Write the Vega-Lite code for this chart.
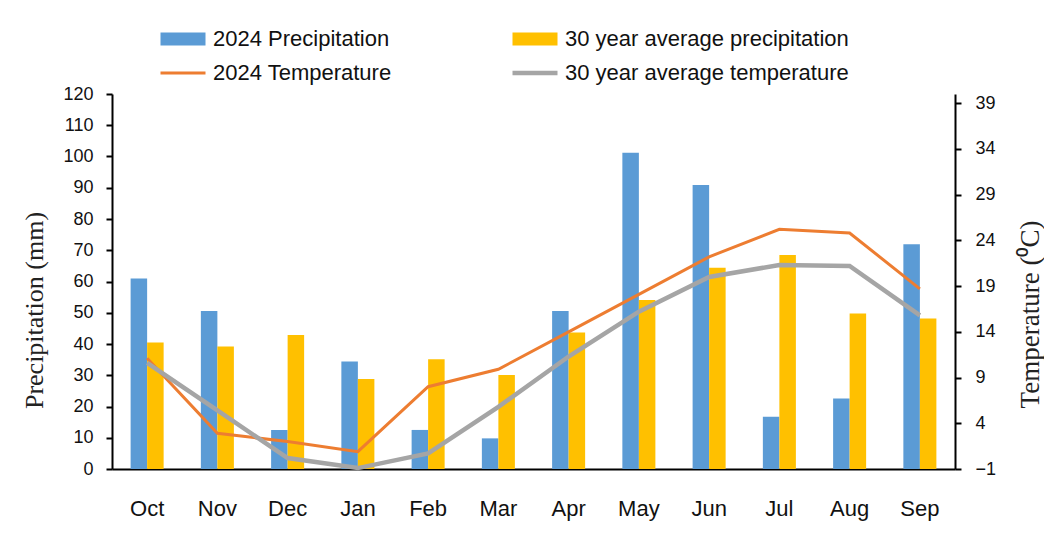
{
  "$schema": "https://vega.github.io/schema/vega-lite/v6.json",
  "autosize": {"type": "none"},
  "padding": {"left": 112, "top": 94, "right": 89, "bottom": 70},
  "width": 843,
  "height": 375,
  "background": "white",
  "config": {"view": {"stroke": null}},
  "datasets": {
    "precip": [
      {"month": "Oct", "series": "2024 Precipitation", "precip": 61.0},
      {"month": "Oct", "series": "30 year average precipitation", "precip": 40.5},
      {"month": "Nov", "series": "2024 Precipitation", "precip": 50.6},
      {"month": "Nov", "series": "30 year average precipitation", "precip": 39.2},
      {"month": "Dec", "series": "2024 Precipitation", "precip": 12.5},
      {"month": "Dec", "series": "30 year average precipitation", "precip": 42.9},
      {"month": "Jan", "series": "2024 Precipitation", "precip": 34.4},
      {"month": "Jan", "series": "30 year average precipitation", "precip": 28.8},
      {"month": "Feb", "series": "2024 Precipitation", "precip": 12.5},
      {"month": "Feb", "series": "30 year average precipitation", "precip": 35.1},
      {"month": "Mar", "series": "2024 Precipitation", "precip": 9.8},
      {"month": "Mar", "series": "30 year average precipitation", "precip": 30.1},
      {"month": "Apr", "series": "2024 Precipitation", "precip": 50.6},
      {"month": "Apr", "series": "30 year average precipitation", "precip": 43.7},
      {"month": "May", "series": "2024 Precipitation", "precip": 101.2},
      {"month": "May", "series": "30 year average precipitation", "precip": 54.1},
      {"month": "Jun", "series": "2024 Precipitation", "precip": 90.9},
      {"month": "Jun", "series": "30 year average precipitation", "precip": 64.4},
      {"month": "Jul", "series": "2024 Precipitation", "precip": 16.7},
      {"month": "Jul", "series": "30 year average precipitation", "precip": 68.5},
      {"month": "Aug", "series": "2024 Precipitation", "precip": 22.6},
      {"month": "Aug", "series": "30 year average precipitation", "precip": 49.8},
      {"month": "Sep", "series": "2024 Precipitation", "precip": 71.9},
      {"month": "Sep", "series": "30 year average precipitation", "precip": 48.2}
    ],
    "temp": [
      {"month": "Oct", "series": "2024 Temperature", "temp": 11.1},
      {"month": "Nov", "series": "2024 Temperature", "temp": 2.9},
      {"month": "Dec", "series": "2024 Temperature", "temp": 2.0},
      {"month": "Jan", "series": "2024 Temperature", "temp": 0.9},
      {"month": "Feb", "series": "2024 Temperature", "temp": 8.0},
      {"month": "Mar", "series": "2024 Temperature", "temp": 9.9},
      {"month": "Apr", "series": "2024 Temperature", "temp": 14.0},
      {"month": "May", "series": "2024 Temperature", "temp": 18.1},
      {"month": "Jun", "series": "2024 Temperature", "temp": 22.2},
      {"month": "Jul", "series": "2024 Temperature", "temp": 25.2},
      {"month": "Aug", "series": "2024 Temperature", "temp": 24.8},
      {"month": "Sep", "series": "2024 Temperature", "temp": 18.7},
      {"month": "Oct", "series": "30 year average temperature", "temp": 10.6},
      {"month": "Nov", "series": "30 year average temperature", "temp": 5.4},
      {"month": "Dec", "series": "30 year average temperature", "temp": 0.2},
      {"month": "Jan", "series": "30 year average temperature", "temp": -0.9},
      {"month": "Feb", "series": "30 year average temperature", "temp": 0.7},
      {"month": "Mar", "series": "30 year average temperature", "temp": 5.8},
      {"month": "Apr", "series": "30 year average temperature", "temp": 11.3},
      {"month": "May", "series": "30 year average temperature", "temp": 16.2},
      {"month": "Jun", "series": "30 year average temperature", "temp": 20.0},
      {"month": "Jul", "series": "30 year average temperature", "temp": 21.3},
      {"month": "Aug", "series": "30 year average temperature", "temp": 21.2},
      {"month": "Sep", "series": "30 year average temperature", "temp": 15.8}
    ]
  },
  "encoding": {
    "x": {
      "field": "month",
      "type": "nominal",
      "scale": {
        "domain": ["Oct", "Nov", "Dec", "Jan", "Feb", "Mar", "Apr", "May", "Jun", "Jul", "Aug", "Sep"],
        "paddingInner": 0.53,
        "paddingOuter": 0.265
      },
      "axis": {
        "title": null,
        "labelAngle": 0,
        "labelFont": "Liberation Sans",
        "labelFontSize": 22,
        "labelColor": "#111111",
        "labelPadding": 29,
        "ticks": false,
        "domainColor": "#000000",
        "domainWidth": 2
      }
    }
  },
  "layer": [
    {
      "data": {"name": "precip"},
      "mark": {"type": "bar"},
      "encoding": {
        "xOffset": {
          "field": "series",
          "type": "nominal",
          "scale": {"domain": ["2024 Precipitation", "30 year average precipitation"], "paddingInner": 0, "paddingOuter": 0}
        },
        "y": {
          "field": "precip",
          "type": "quantitative",
          "scale": {"domain": [0, 120], "nice": false},
          "axis": {
            "title": "Precipitation (mm)",
            "titleFont": "Liberation Serif",
            "titleFontSize": 26,
            "titleFontWeight": "normal",
            "titleColor": "#222222",
            "titleX": -70,
            "titleY": 216,
            "titleAngle": -90,
            "titleAlign": "center",
            "titleBaseline": "alphabetic",
            "values": [0, 10, 20, 30, 40, 50, 60, 70, 80, 90, 100, 110, 120],
            "labelFont": "Liberation Sans",
            "labelFontSize": 18,
            "labelColor": "#111111",
            "labelPadding": 13,
            "tickColor": "#000000",
            "tickSize": 6,
            "tickWidth": 2,
            "domainColor": "#000000",
            "domainWidth": 2,
            "grid": false
          }
        },
        "color": {
          "field": "series",
          "type": "nominal",
          "scale": {
            "domain": ["2024 Precipitation", "2024 Temperature", "30 year average precipitation", "30 year average temperature"],
            "range": ["#5B9BD5", "#ED7D31", "#FFC000", "#A5A5A5"]
          },
          "legend": {
            "orient": "none",
            "legendX": 60,
            "legendY": -66,
            "columns": 2,
            "columnPadding": 111,
            "rowPadding": 12,
            "title": null,
            "labelFont": "Liberation Sans",
            "labelFontSize": 22,
            "labelColor": "#111111",
            "labelOffset": 19,
            "symbolSize": 2025,
            "labelLimit": 400,
            "encode": {
              "symbols": {
                "update": {
                  "shape": {"signal": "indexof(datum.label, 'emperature') >= 0 ? 'M-1,0H1' : 'M-1,-0.29H1V0.29H-1Z'"},
                  "fill": {"signal": "indexof(datum.label, 'emperature') >= 0 ? 'transparent' : scale('color', datum.value)"},
                  "stroke": {"signal": "scale('color', datum.value)"},
                  "strokeWidth": {"signal": "datum.label == '2024 Temperature' ? 3 : (datum.label == '30 year average temperature' ? 4.5 : 0)"},
                  "opacity": {"value": 1}
                }
              }
            }
          }
        }
      }
    },
    {
      "data": {"name": "temp"},
      "mark": {"type": "line"},
      "encoding": {
        "y": {
          "field": "temp",
          "type": "quantitative",
          "scale": {"domain": [-1, 40], "nice": false},
          "axis": {
            "orient": "right",
            "title": "Temperature (⁰C)",
            "titleFont": "Liberation Serif",
            "titleFontSize": 27,
            "titleFontWeight": "normal",
            "titleColor": "#222222",
            "titleX": 83,
            "titleY": 220,
            "titleAngle": -90,
            "titleAlign": "center",
            "titleBaseline": "alphabetic",
            "values": [-1, 4, 9, 14, 19, 24, 29, 34, 39],
            "labelFont": "Liberation Sans",
            "labelFontSize": 18,
            "labelColor": "#111111",
            "labelPadding": 14,
            "tickColor": "#000000",
            "tickSize": 6,
            "tickWidth": 2,
            "domainColor": "#000000",
            "domainWidth": 2,
            "grid": false
          }
        },
        "color": {"field": "series", "type": "nominal"},
        "strokeWidth": {
          "field": "series",
          "type": "nominal",
          "scale": {"domain": ["2024 Temperature", "30 year average temperature"], "range": [3, 4.5]},
          "legend": null
        }
      }
    }
  ],
  "resolve": {"scale": {"y": "independent"}}
}
